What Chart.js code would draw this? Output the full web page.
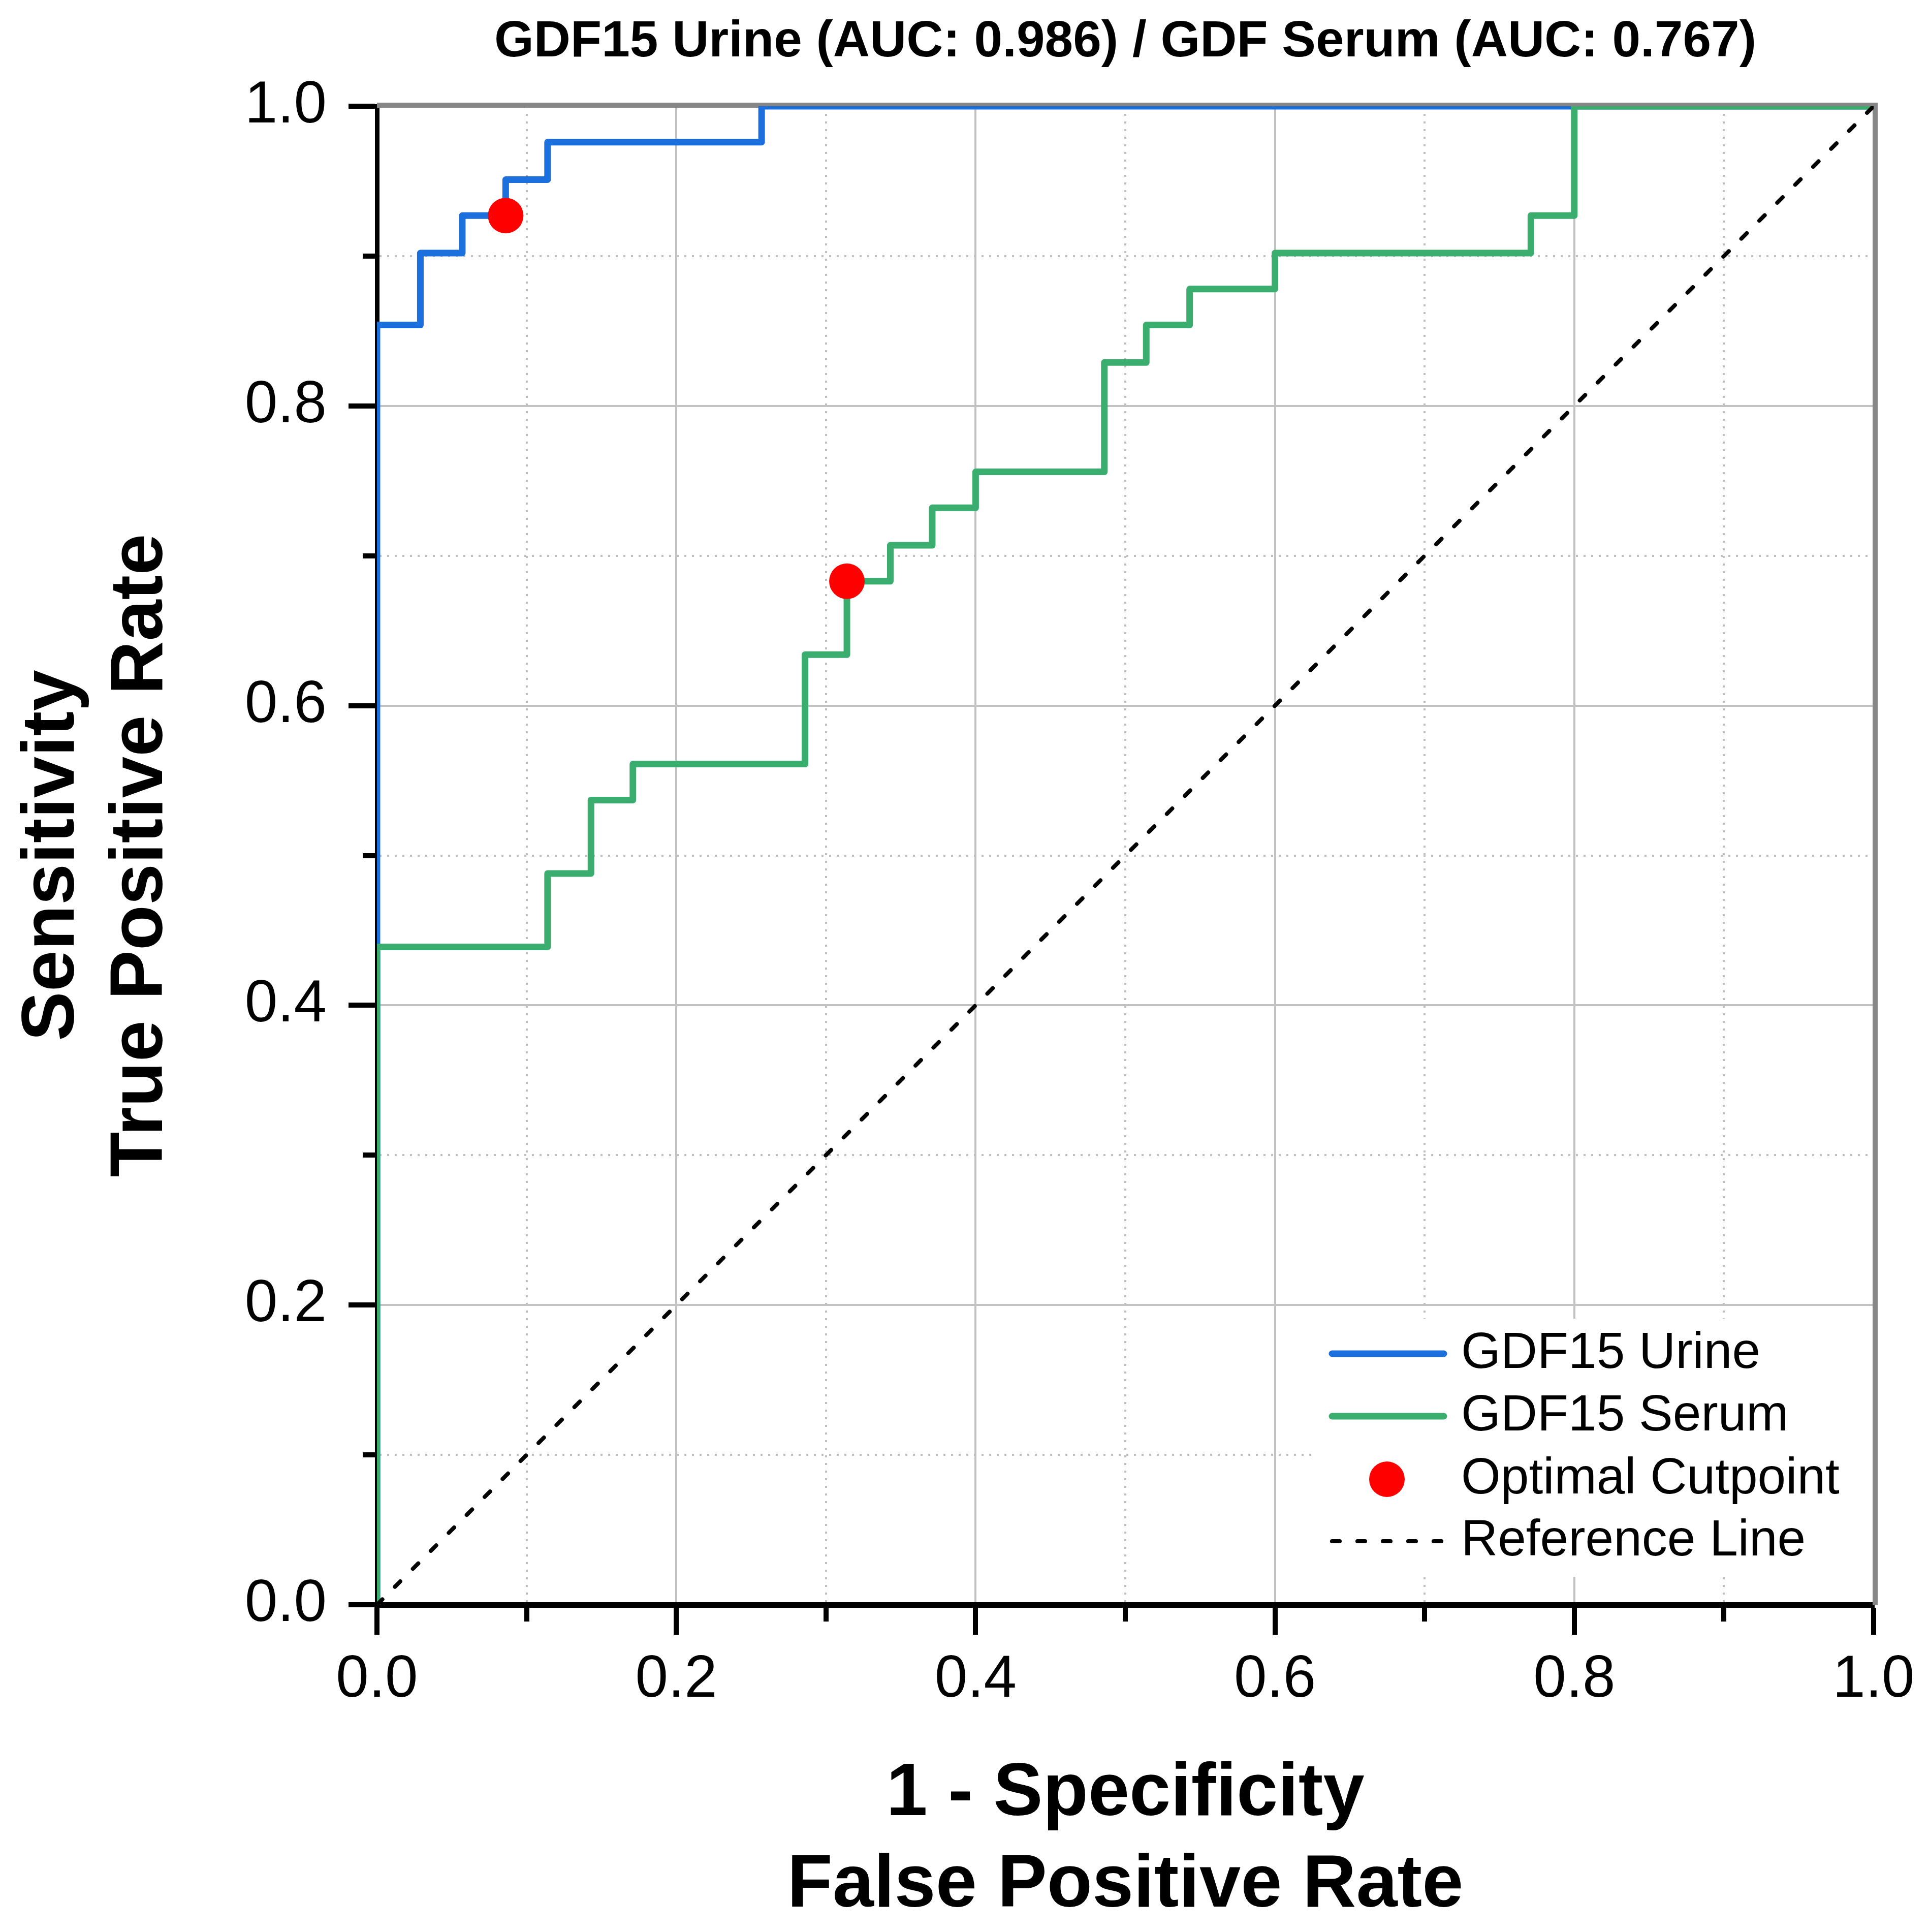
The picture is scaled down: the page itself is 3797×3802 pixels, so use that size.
<!DOCTYPE html>
<html>
<head>
<meta charset="utf-8">
<title>GDF15 ROC curves</title>
<script src="https://cdn.jsdelivr.net/npm/chart.js@4.4.1/dist/chart.umd.min.js"></script>
<style>
  html, body { margin: 0; padding: 0; background: #fff; }
  #wrap { position: relative; width: 3797px; height: 3802px; }
</style>
</head>
<body>
<div id="wrap"><canvas id="rocChart"></canvas></div>
<script>
// ROC corner points
const urineFpr = [0, 0, 0.029, 0.029, 0.057, 0.057, 0.086, 0.086, 0.114, 0.114, 0.257, 0.257, 1];
const urineTpr = [0, 0.854, 0.854, 0.902, 0.902, 0.927, 0.927, 0.951, 0.951, 0.976, 0.976, 1, 1];

const serumFpr = [0, 0, 0.114, 0.114, 0.143, 0.143, 0.171, 0.171, 0.286, 0.286, 0.314, 0.314,
  0.343, 0.343, 0.371, 0.371, 0.4, 0.4, 0.486, 0.486, 0.514, 0.514, 0.543, 0.543,
  0.6, 0.6, 0.771, 0.771, 0.8, 0.8, 1];
const serumTpr = [0, 0.439, 0.439, 0.488, 0.488, 0.537, 0.537, 0.561, 0.561, 0.634, 0.634,
  0.683, 0.683, 0.707, 0.707, 0.732, 0.732, 0.756, 0.756, 0.829, 0.829, 0.854, 0.854,
  0.878, 0.878, 0.902, 0.902, 0.927, 0.927, 1, 1];

// optimal cutpoints (urine, serum)
const cutFpr = [0.086, 0.314];
const cutTpr = [0.927, 0.683];

const refX = [0, 1];
const refY = [0, 1];

const seriesLabels = ['GDF15 Urine', 'GDF15 Serum', 'Optimal Cutpoint', 'Reference Line'];
const majorTicks = [0, 0.2, 0.4, 0.6, 0.8, 1.0];
const minorTicks = [0.1, 0.3, 0.5, 0.7, 0.9];

const chartTitle = 'GDF15 Urine (AUC: 0.986) / GDF Serum (AUC: 0.767)';
const xTitle = ['1 - Specificity', 'False Positive Rate'];
const yTitle = ['Sensitivity', 'True Positive Rate'];

const BLUE = '#1c70de';
const GREEN = '#3bae6f';
const RED = '#ff0000';

const toXY = (xs, ys) => xs.map((x, i) => ({ x: x, y: ys[i] }));
const isMinor = v => minorTicks.some(m => Math.abs(m - v) < 1e-9);
const allTicks = majorTicks.concat(minorTicks).sort((a, b) => a - b);

Chart.defaults.font.family = "'Liberation Sans', Arial, Helvetica, sans-serif";
Chart.defaults.color = '#000';

// grey frame on top/right, white legend box, then the legend entries
const frameAndLegend = {
  id: 'frameAndLegend',
  beforeDatasetsDraw(chart) {
    const { ctx, chartArea: a } = chart;
    ctx.save();
    ctx.fillStyle = '#fff';
    ctx.fillRect(a.right - 1098, a.bottom - 563, 1092, 508);
    ctx.strokeStyle = '#878787';
    ctx.lineWidth = 10;
    ctx.beginPath();
    ctx.moveTo(a.left, a.top - 2);
    ctx.lineTo(a.right + 3, a.top - 2);
    ctx.lineTo(a.right + 3, a.bottom);
    ctx.stroke();
    ctx.restore();
  },
  afterDatasetsDraw(chart) {
    const { ctx, chartArea: a } = chart;
    const rows = [494, 371, 247, 125];
    ctx.save();
    chart.data.datasets.forEach((ds, i) => {
      const y = a.bottom - rows[i];
      if (ds.showLine === false) {
        ctx.fillStyle = ds.pointBackgroundColor;
        ctx.beginPath();
        ctx.arc(a.right - 958, y, ds.pointRadius, 0, Math.PI * 2);
        ctx.fill();
      } else {
        ctx.strokeStyle = ds.borderColor;
        ctx.lineWidth = ds.borderWidth;
        ctx.lineCap = 'round';
        ctx.setLineDash(ds.borderDash || []);
        ctx.beginPath();
        ctx.moveTo(a.right - 1066, y);
        ctx.lineTo(a.right - 846, y);
        ctx.stroke();
        ctx.setLineDash([]);
      }
      ctx.fillStyle = '#000';
      ctx.font = "100px 'Liberation Sans', Arial, sans-serif";
      ctx.textAlign = 'left';
      ctx.textBaseline = 'middle';
      ctx.fillText(ds.label, a.right - 812, y);
    });
    ctx.restore();
  }
};

const gridColor = c => (c.tick && isMinor(c.tick.value)) ? '#bfbfbf' : '#c2c2c2';
const gridDash = c => (c.tick && isMinor(c.tick.value)) ? [4, 11] : [];

new Chart(document.getElementById('rocChart'), {
  type: 'line',
  data: {
    datasets: [{
      label: seriesLabels[0],
      data: toXY(urineFpr, urineTpr),
      borderColor: BLUE,
      borderWidth: 13,
      borderJoinStyle: 'round',
      pointRadius: 0,
      tension: 0,
      clip: 0,
      order: 3
    }, {
      label: seriesLabels[1],
      data: toXY(serumFpr, serumTpr),
      borderColor: GREEN,
      borderWidth: 13,
      borderJoinStyle: 'round',
      pointRadius: 0,
      tension: 0,
      clip: 0,
      order: 2
    }, {
      label: seriesLabels[2],
      data: toXY(cutFpr, cutTpr),
      showLine: false,
      pointRadius: 35,
      pointBackgroundColor: RED,
      pointBorderColor: RED,
      pointBorderWidth: 0,
      clip: false,
      order: 0
    }, {
      label: seriesLabels[3],
      data: toXY(refX, refY),
      borderColor: '#000',
      borderWidth: 8,
      borderDash: [15, 35],
      borderCapStyle: 'round',
      pointRadius: 0,
      clip: 0,
      order: 1
    }]
  },
  options: {
    responsive: true,
    maintainAspectRatio: false,
    devicePixelRatio: 1,
    animation: false,
    events: [],
    layout: { padding: { left: 0, right: 109, top: 0, bottom: 0 } },
    plugins: {
      legend: { display: false },
      tooltip: { enabled: false },
      title: {
        display: true,
        text: chartTitle,
        fullSize: false,
        color: '#000',
        font: { size: 100, weight: 'bold', lineHeight: 1.2 },
        padding: { top: 23, bottom: 66 }
      }
    },
    scales: {
      x: {
        type: 'linear',
        min: 0,
        max: 1,
        afterBuildTicks: s => { s.ticks = allTicks.map(v => ({ value: v })); },
        afterFit: s => { s.height = 644; },
        ticks: {
          autoSkip: false,
          maxRotation: 0,
          padding: 20,
          color: '#000',
          font: { size: 116 },
          callback: v => isMinor(v) ? '' : v.toFixed(1)
        },
        grid: {
          color: gridColor,
          lineWidth: 4,
          tickLength: 59,
          tickWidth: 10,
          tickColor: '#000',
          tickBorderDash: c => (c.tick && isMinor(c.tick.value)) ? [27, 200] : []
        },
        border: { color: '#000', width: 11, dash: gridDash },
        title: {
          display: true,
          text: xTitle,
          color: '#000',
          font: { size: 146, weight: 'bold', lineHeight: 1.233 },
          padding: { top: 0, bottom: 0 }
        }
      },
      y: {
        type: 'linear',
        min: 0,
        max: 1,
        afterBuildTicks: s => { s.ticks = allTicks.map(v => ({ value: v })); },
        afterFit: s => { s.width = 742; },
        ticks: {
          autoSkip: false,
          padding: 43,
          color: '#000',
          font: { size: 116 },
          callback: v => isMinor(v) ? '' : v.toFixed(1)
        },
        grid: {
          color: gridColor,
          lineWidth: 4,
          tickLength: 56,
          tickWidth: 10,
          tickColor: '#000',
          tickBorderDash: c => (c.tick && isMinor(c.tick.value)) ? [0, 28, 60, 200] : []
        },
        border: { color: '#000', width: 9, dash: gridDash },
        title: {
          display: true,
          text: yTitle,
          color: '#000',
          font: { size: 146, weight: 'bold', lineHeight: 1.19 },
          padding: { top: 18, bottom: 0 }
        }
      }
    }
  },
  plugins: [frameAndLegend]
});
</script>
</body>
</html>
